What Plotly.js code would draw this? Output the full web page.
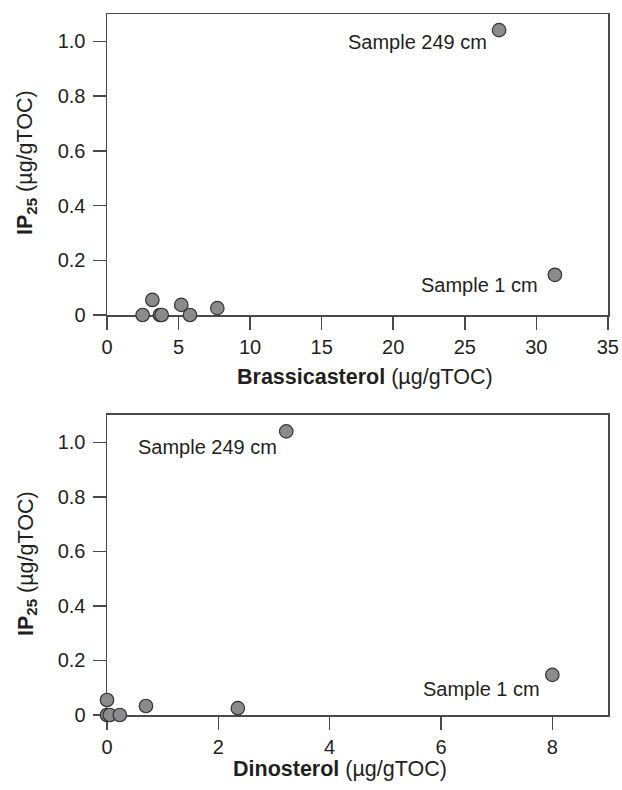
<!DOCTYPE html>
<html>
<head>
<meta charset="utf-8">
<script src="https://cdn.plot.ly/plotly-3.0.1.min.js"></script>
<style>html,body{margin:0;padding:0;background:#fff;}#chart{width:622px;height:790px;}</style>
</head>
<body>
<div id="chart"></div>
<script>
// Data
const brassicasterol = [2.49, 3.17, 3.70, 3.82, 5.19, 5.80, 7.71, 27.4, 31.3];
const ip25_top      = [0, 0.055, 0, 0, 0.037, 0, 0.025, 1.041, 0.147];
const dinosterol    = [0, 0, 0.05, 0.23, 0.7, 2.35, 3.22, 8.0];
const ip25_bottom   = [0.055, 0, 0, 0, 0.033, 0.025, 1.04, 0.147];
const sampleLabels  = ["Sample 249 cm", "Sample 1 cm"];
const topLabelIdx    = [7, 8];
const bottomLabelIdx = [6, 7];
const yTickVals = [0, 0.2, 0.4, 0.6, 0.8, 1.0];
const yTickText = ["0", "0.2", "0.4", "0.6", "0.8", "1.0"];
const xTopTicks = [0, 5, 10, 15, 20, 25, 30, 35];
const xBottomTicks = [0, 2, 4, 6, 8];

const FONT = "Liberation Sans, Arial, Helvetica, sans-serif";
const TXT = "#231f20";
const AX = "#4a4a4a";
const FS_TICK = 20;
const FS_LABEL = 20;
const FS_TITLE = 21.5;

const marker = {size: 13.5, color: "#8b8b8e", line: {color: "#333333", width: 1.2}};

const traces = [
  {x: brassicasterol, y: ip25_top, xaxis: "x", yaxis: "y", mode: "markers", type: "scatter", marker: marker, cliponaxis: false, hoverinfo: "skip"},
  {x: dinosterol, y: ip25_bottom, xaxis: "x2", yaxis: "y2", mode: "markers", type: "scatter", marker: marker, cliponaxis: false, hoverinfo: "skip"}
];

function axisBase() {
  return {
    showline: true, mirror: true, linecolor: AX, linewidth: 1.5,
    ticks: "outside", ticklen: 13, tickwidth: 1.5, tickcolor: AX,
    showgrid: false, zeroline: false, layer: "below traces",
    ticklabeloverflow: "allow",
    tickfont: {family: FONT, size: FS_TICK, color: TXT}, fixedrange: true
  };
}

const xaxis = Object.assign(axisBase(), {domain: [0, 1], range: [0, 35.01], tickvals: xTopTicks, ticktext: xTopTicks.map(String), anchor: "y"});
const yaxis = Object.assign(axisBase(), {domain: [0.5706, 1], range: [0, 1.1], tickvals: yTickVals, ticktext: yTickText, anchor: "x", ticklabelstandoff: 3});
const xaxis2 = Object.assign(axisBase(), {domain: [0, 1], range: [0, 9], tickvals: xBottomTicks, ticktext: xBottomTicks.map(String), anchor: "y2"});
const yaxis2 = Object.assign(axisBase(), {domain: [0, 0.428], range: [0, 1.1], tickvals: yTickVals, ticktext: yTickText, anchor: "x2", ticklabelstandoff: 3});

const labelShifts = {top: [[-10, -12], [-14.5, -10.5]], bottom: [[-7, -16], [-10.5, -14]]};

const annotations = [];
topLabelIdx.forEach((idx, k) => {
  annotations.push({xref: "x", yref: "y", x: brassicasterol[idx], y: ip25_top[idx], text: sampleLabels[k],
    showarrow: false, xanchor: "right", yanchor: "middle", xshift: labelShifts.top[k][0], yshift: labelShifts.top[k][1],
    font: {family: FONT, size: FS_LABEL, color: TXT}});
});
bottomLabelIdx.forEach((idx, k) => {
  annotations.push({xref: "x2", yref: "y2", x: dinosterol[idx], y: ip25_bottom[idx], text: sampleLabels[k],
    showarrow: false, xanchor: "right", yanchor: "middle", xshift: labelShifts.bottom[k][0], yshift: labelShifts.bottom[k][1],
    font: {family: FONT, size: FS_LABEL, color: TXT}});
});
const titleFont = {family: FONT, size: FS_TITLE, color: TXT};
annotations.push({xref: "paper", yref: "paper", x: 0.515, y: 0.4815, xanchor: "center", yanchor: "middle", showarrow: false,
  text: "<b>Brassicasterol</b> (µg/gTOC)", font: titleFont});
annotations.push({xref: "paper", yref: "paper", x: 0.465, y: -0.077, xanchor: "center", yanchor: "middle", showarrow: false,
  text: "<b>Dinosterol</b> (µg/gTOC)", font: titleFont});
annotations.push({xref: "paper", yref: "paper", x: -0.1597, y: 0.7889, xanchor: "center", yanchor: "middle", showarrow: false, textangle: -90,
  text: "<b>IP<sub>25</sub></b> (µg/gTOC)", font: titleFont});
annotations.push({xref: "paper", yref: "paper", x: -0.1597, y: 0.2168, xanchor: "center", yanchor: "middle", showarrow: false, textangle: -90,
  text: "<b>IP<sub>25</sub></b> (µg/gTOC)", font: titleFont});

const layout = {
  width: 622, height: 790,
  margin: {l: 107, r: 14, t: 14, b: 75},
  paper_bgcolor: "#ffffff", plot_bgcolor: "#ffffff",
  showlegend: false,
  xaxis: xaxis, yaxis: yaxis, xaxis2: xaxis2, yaxis2: yaxis2,
  annotations: annotations,
  font: {family: FONT, color: TXT}
};

Plotly.newPlot("chart", traces, layout, {displayModeBar: false, staticPlot: true});
</script>
</body>
</html>
